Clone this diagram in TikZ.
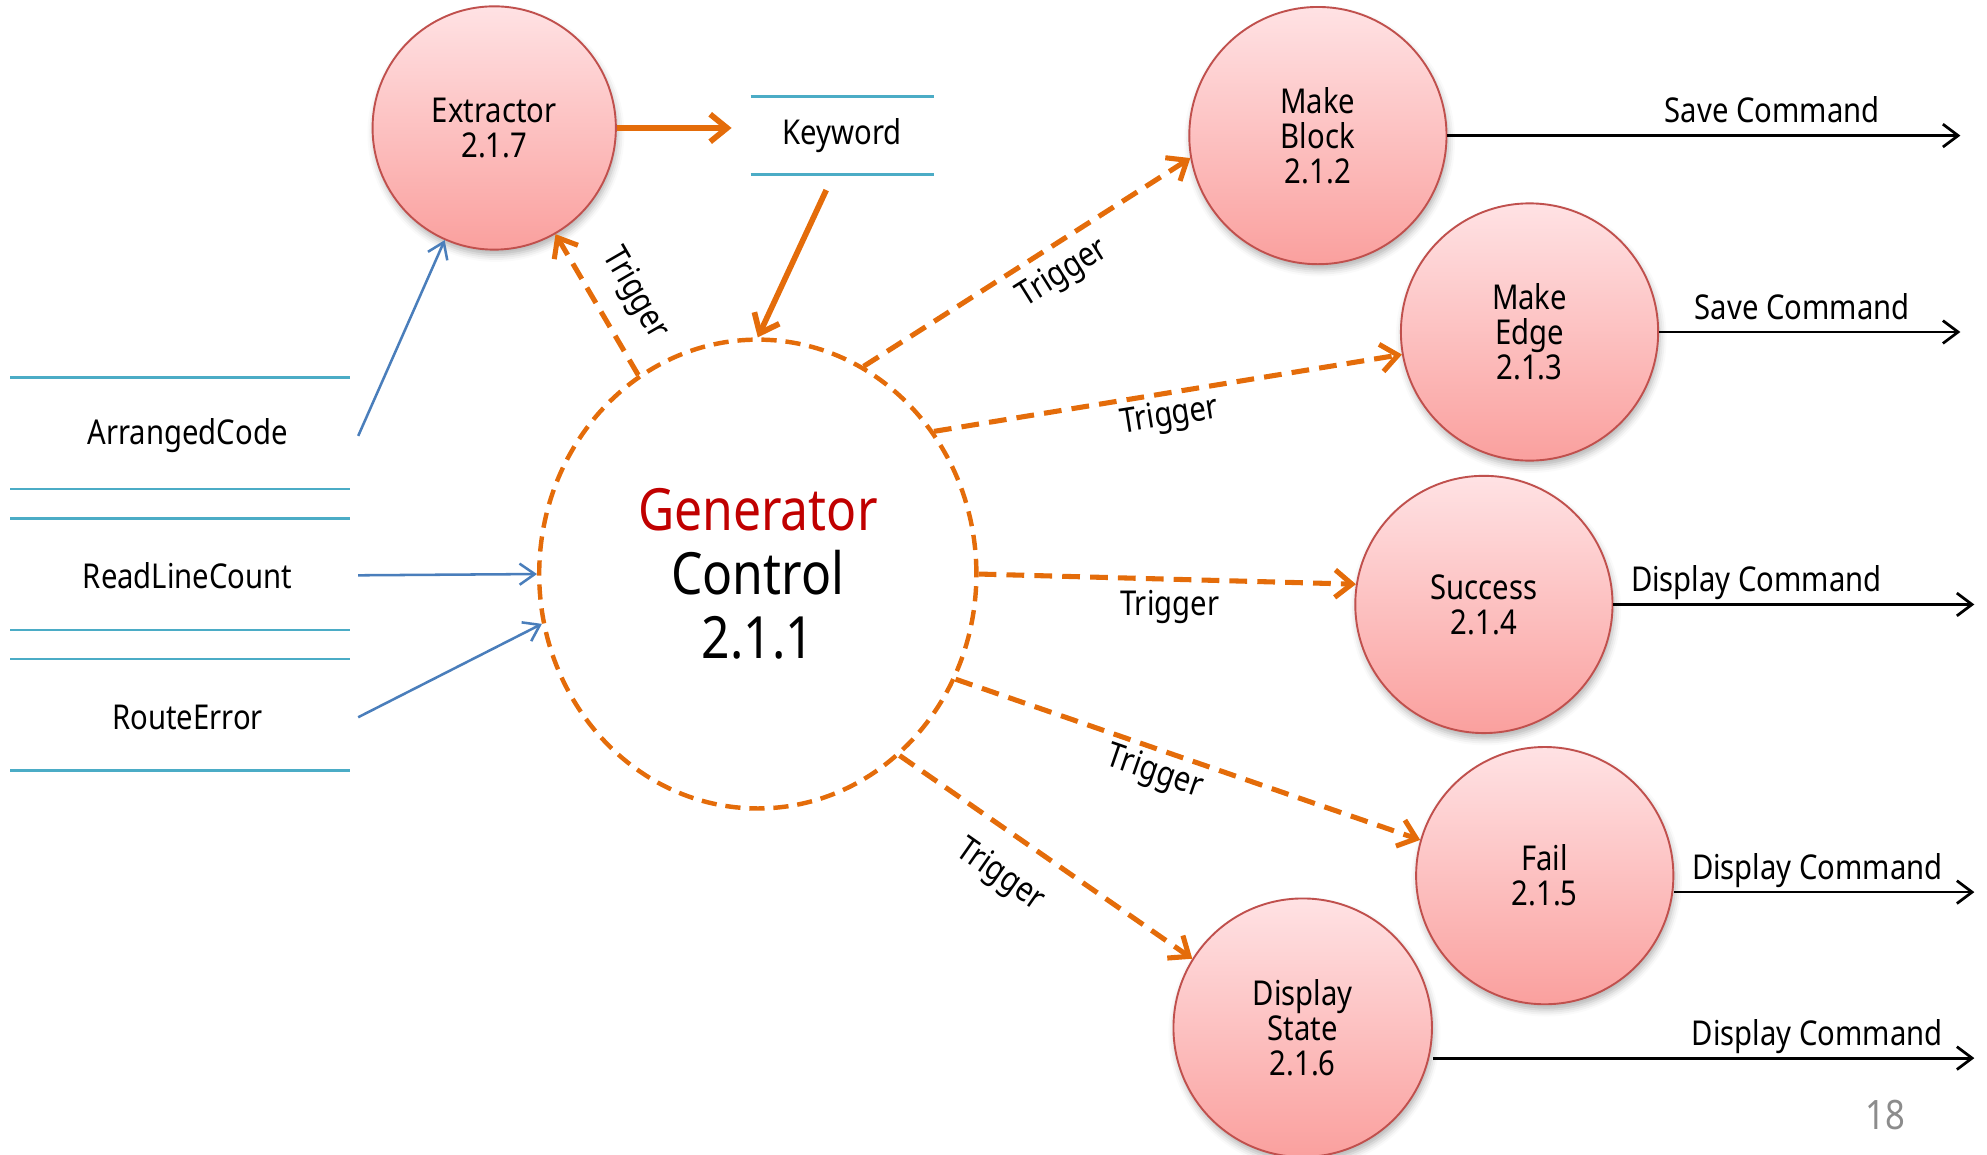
\documentclass[tikz,border=0pt]{standalone}
\usepackage{fontspec}
\setmainfont[FakeStretch=0.855]{Noto Sans}
\usetikzlibrary{arrows.meta,shapes.geometric,shadows.blur}

\definecolor{flow}{RGB}{228,108,10}
\definecolor{inflow}{RGB}{74,126,187}
\definecolor{storeblue}{RGB}{75,172,198}
\definecolor{procedge}{RGB}{192,80,77}
\definecolor{proctop}{RGB}{255,226,228}
\definecolor{procbot}{RGB}{250,160,158}
\definecolor{ctrlred}{RGB}{192,0,0}
\definecolor{pagegray}{RGB}{140,140,140}

\newcommand\procfont{\fontsize{8.1pt}{8.3pt}\selectfont}
\newcommand\lblfont{\fontsize{8.1pt}{9pt}\selectfont}
\newcommand\ctrlfont{\fontsize{13.8pt}{15.15pt}\selectfont}
\newcommand\pagefont{\fontsize{9.6pt}{11pt}\selectfont}

\begin{document}
\begin{tikzpicture}[x=0.3pt, y=-0.3pt,
  proc/.style={circle, draw=procedge, line width=0.45pt,
    top color=proctop, bottom color=procbot, inner sep=0pt,
    minimum size=60.9pt, align=center, font=\procfont,
    blur shadow={shadow xshift=0.4pt, shadow yshift=-1.3pt,
      shadow blur radius=1.6pt, shadow opacity=30}},
  store/.style={inner sep=0pt, minimum width=80.4pt, minimum height=26.4pt, font=\lblfont},
  storeline/.style={draw=storeblue, line width=0.6pt},
  inarrow/.style={draw=inflow, line width=0.6pt, -{Straight Barb[length=3.6pt, width=5pt]}},
  outarrow/.style={draw=black, line width=0.65pt, -{Straight Barb[length=3.6pt, width=5.4pt]}},
  dataflow/.style={draw=flow, line width=1.35pt, -{Straight Barb[length=4pt, width=6.5pt]}},
  trigger/.style={draw=flow, line width=1.2pt, dash pattern=on 4.2pt off 2.4pt,
    -{Straight Barb[length=4pt, width=6.5pt]}},
  triglabel/.style={font=\lblfont, inner sep=0pt},
  outlabel/.style={font=\lblfont, anchor=base, yshift=3pt, inner sep=0pt}
]
\useasboundingbox (0,0) rectangle (1568,911);

% central control process
\node[ellipse, draw=flow, line width=1.05pt, dash pattern=on 3.6pt off 2.1pt,
  minimum width=103.5pt, minimum height=111pt, inner sep=0pt, align=center,
  font=\ctrlfont] (ctrl) at (598,453) {\textcolor{ctrlred}{Generator}\\Control\\2.1.1};

% processes
\node[proc, minimum size=57.6pt] (ext) at (390,101) {Extractor\\2.1.7};
\node[proc] (mb) at (1040,107) {Make\\Block\\2.1.2};
\node[proc] (me) at (1207,262) {Make\\Edge\\2.1.3};
\node[proc] (su) at (1171,477) {Success\\2.1.4};
\node[proc] (fa) at (1219,691) {Fail\\2.1.5};
\node[proc, minimum size=61.2pt] (ds) at (1028,811) {Display\\State\\2.1.6};

% data stores
\node[store, minimum width=42.9pt, minimum height=18pt] (kw) at (664.5,107) {Keyword};
\node[store] (acode) at (148,344) {ArrangedCode};
\node[store] (rlc) at (148,454) {ReadLineCount};
\node[store] (rerr) at (148,566) {RouteError};

\draw[storeline] (kw.north west) -- (kw.north east) (kw.south west) -- (kw.south east);
\draw[storeline] (8,298) -- (276,298) (8,386) -- (276,386);
\draw[storeline] (8,409) -- (276,409) (8,497) -- (276,497);
\draw[storeline] (8,520) -- (276,520) (8,608) -- (276,608);

% inputs
\draw[inarrow] (acode.east) -- (ext);
\draw[inarrow] (rlc.east) -- (ctrl.west);
\draw[inarrow] (rerr.east) -- (ctrl.193);

% keyword loop
\coordinate (kwout) at (652,150);
\draw[dataflow, shorten >=4.5pt] (ext.east) -- (ext.east -| kw.west);
\draw[dataflow] (kwout) -- (ctrl.north);

% triggers
\draw[trigger] (ctrl.121) -- (ext.-60);
\draw[trigger] (ctrl.63) -- (mb.190);
\draw[trigger] (ctrl.39) -- (me.190);
\draw[trigger] (ctrl.east) -- (su.171);
\draw[trigger] (ctrl.-28) -- (fa.164);
\draw[trigger] (ctrl.-52) -- (ds.148);

\node[triglabel, rotate=-60] (tg1) at (501,232) {Trigger};
\node[triglabel, rotate=32] (tg2) at (839,216) {Trigger};
\node[triglabel, rotate=9] (tg3) at (923,329) {Trigger};
\node[triglabel] (tg4) at (923,479) {Trigger};
\node[triglabel, rotate=-19] (tg5) at (911,610) {Trigger};
\node[triglabel, rotate=-35] (tg6) at (789,691) {Trigger};

% outputs
\coordinate (mbend) at (1547,107);
\coordinate (meend) at (1547,262);
\coordinate (suend) at (1558,477);
\coordinate (faend) at (1558,704);
\coordinate (dsend) at (1558,835);
\draw[outarrow] (mb.east) -- (mbend) node[outlabel, pos=0.633] (sc1) {Save Command};
\draw[outarrow] (me.east) -- (meend) node[outlabel, pos=0.475] (sc2) {Save Command};
\draw[outarrow] (su.east) -- (suend) node[outlabel, pos=0.396] (dc1) {Display Command};
\draw[outarrow] (fa.east |- faend) -- (faend) node[outlabel, pos=0.477] (dc2) {Display Command};
\draw[outarrow] (ds.east |- dsend) -- (dsend) node[outlabel, pos=0.71] (dc3) {Display Command};

% page number
\node[font=\pagefont, text=pagegray, inner sep=0pt] (pg) at (1488,880) {18};
\end{tikzpicture}
\end{document}
